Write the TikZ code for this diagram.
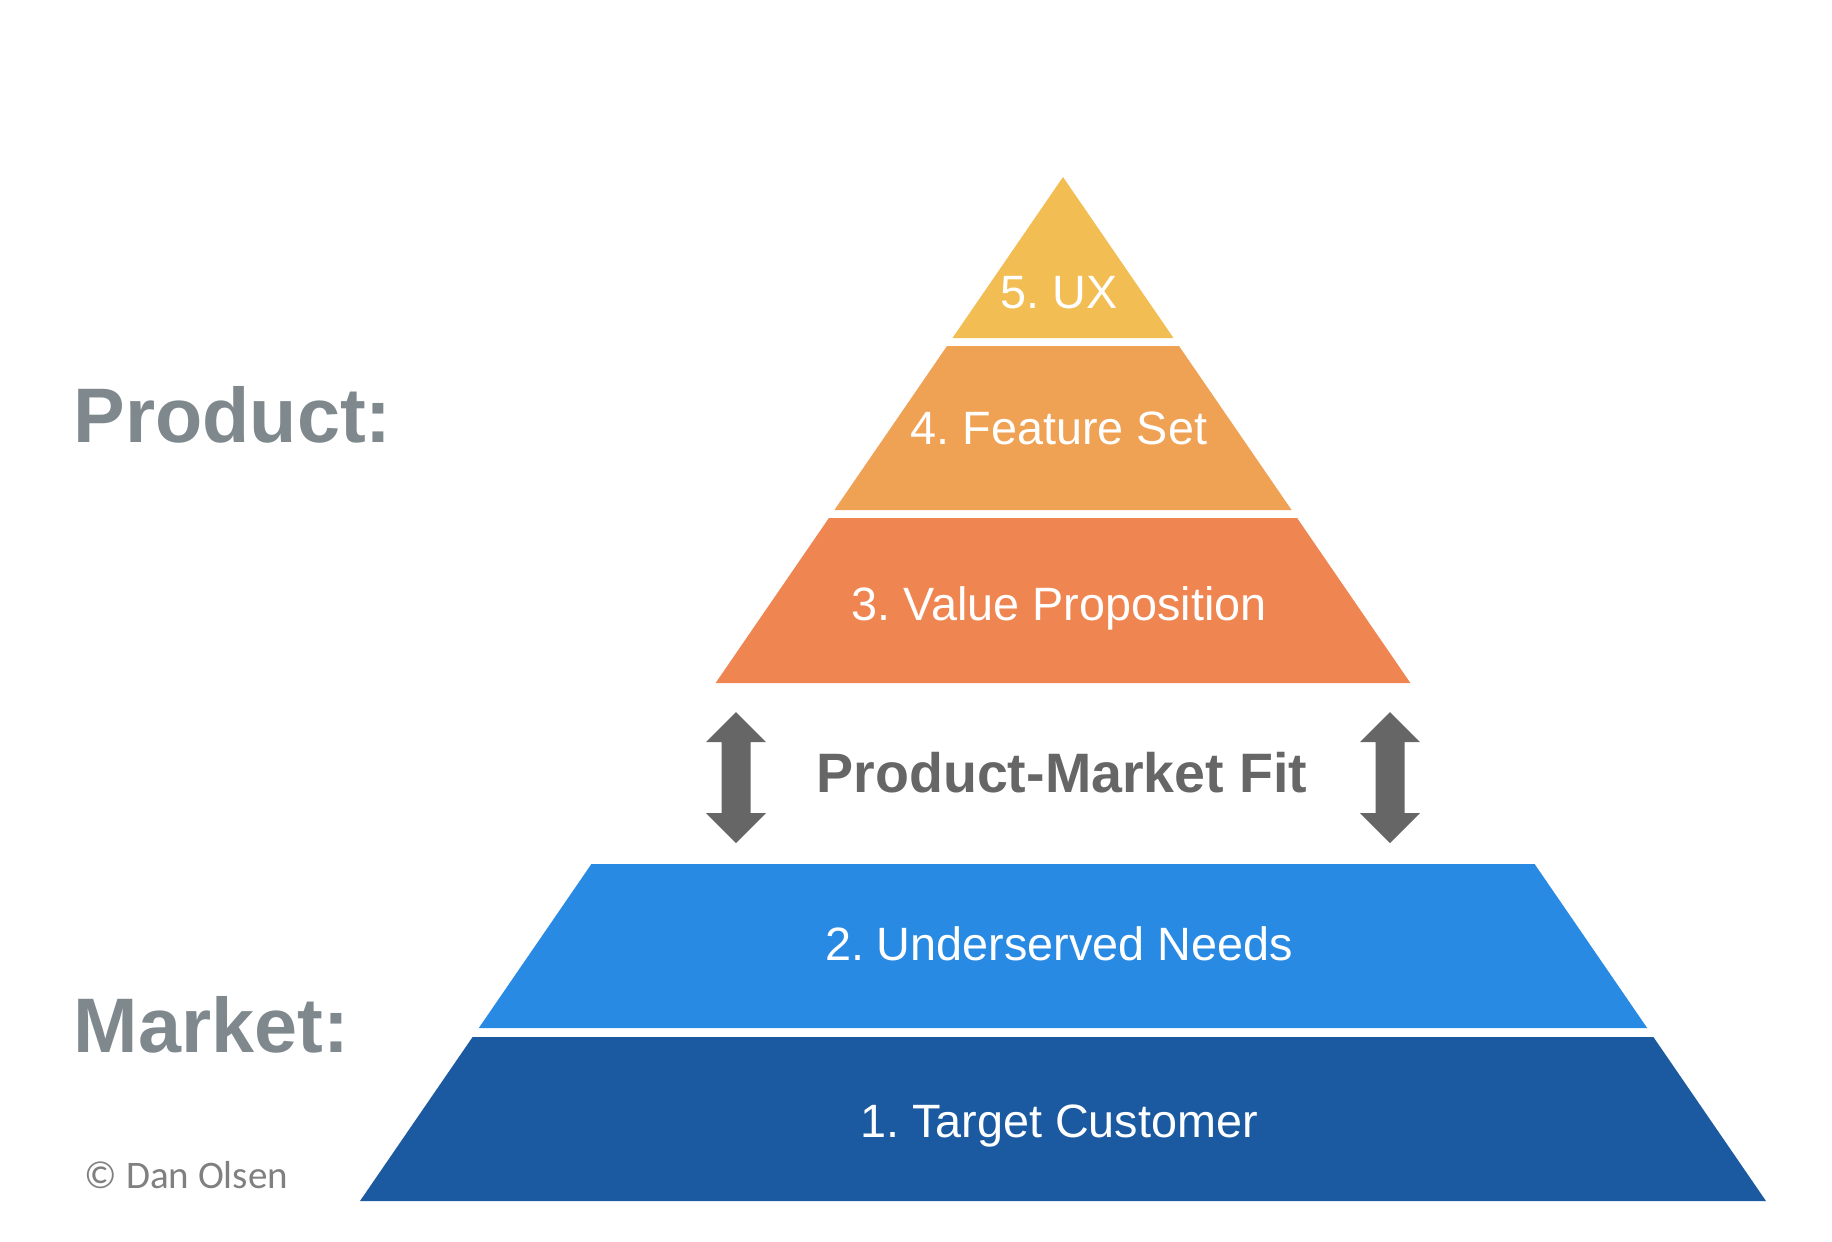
\documentclass[tikz,border=0pt]{standalone}
\usepackage{fontspec}
\setmainfont{Liberation Sans}
\newfontfamily\calib{Carlito}
\frenchspacing
\definecolor{cUX}{RGB}{242,189,82}
\definecolor{cFS}{RGB}{239,161,84}
\definecolor{cVP}{RGB}{239,134,82}
\definecolor{cUN}{RGB}{41,138,228}
\definecolor{cTC}{RGB}{27,90,160}
\definecolor{cSide}{RGB}{127,137,141}
\definecolor{cFit}{RGB}{102,102,102}
\definecolor{cCopy}{RGB}{128,128,128}
\tikzset{
  layertext/.style={text=white, anchor=base, inner sep=0pt, font=\fontsize{13.3pt}{16pt}\selectfont},
  sidetext/.style={text=cSide, anchor=base west, inner sep=0pt, font=\fontsize{22pt}{26pt}\selectfont\bfseries},
  fittext/.style={text=cFit, anchor=base, inner sep=0pt, font=\fontsize{15.8pt}{19pt}\selectfont\bfseries},
  dblarrow/.style={fill=cFit},
}
\begin{document}
\begin{tikzpicture}[x=0.01cm,y=-0.01cm]
\useasboundingbox (0,0) rectangle (1832,1241);
% pyramid layers
\fill[cUX] (1063,177) -- (1173.5,338) -- (952.5,338) -- cycle;
\fill[cFS] (947,346) -- (1179,346) -- (1291.6,510) -- (834.4,510) -- cycle;
\fill[cVP] (828.9,518) -- (1297.1,518) -- (1410.4,683) -- (715.6,683) -- cycle;
\fill[cUN] (591.4,864) -- (1534.6,864) -- (1647.2,1028) -- (478.8,1028) -- cycle;
\fill[cTC] (472.6,1037) -- (1653.4,1037) -- (1766,1201) -- (360,1201) -- cycle;
% layer labels
\node[layertext] (ux) at (1059,308) {5. UX};
\node[layertext] (fs) at (1059,444) {4. Feature Set};
\node[layertext] (vp) at (1059,620) {3. Value Proposition};
\node[layertext] (un) at (1059,960) {2. Underserved Needs};
\node[layertext] (tc) at (1059,1137) {1. Target Customer};
% side labels
\node[sidetext] (prod) at (73,442) {Product:};
\node[sidetext] (mkt) at (73,1052) {Market:};
\node[anchor=base west, inner sep=0pt, text=cCopy, font=\calib\fontsize{11.1pt}{13pt}\selectfont] (copy) at (84,1188) {© Dan Olsen};
% product-market fit
\node[fittext] (fit) at (1062,792) {Product-Market Fit};
% double arrows
\foreach \cx/\nm in {736/la, 1390/ra}{
  \fill[dblarrow] (\cx,712) -- (\cx+30,742) -- (\cx+14.5,742) -- (\cx+14.5,813) -- (\cx+30,813)
     -- (\cx,843) -- (\cx-30,813) -- (\cx-14.5,813) -- (\cx-14.5,742) -- (\cx-30,742) -- cycle;
}
\end{tikzpicture}
\end{document}
